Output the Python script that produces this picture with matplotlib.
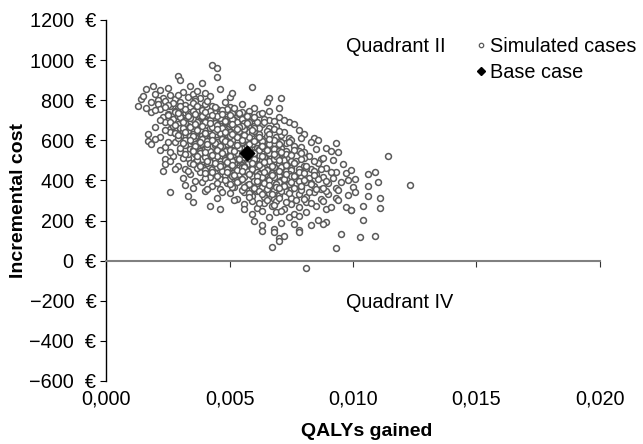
import numpy as np
import matplotlib.pyplot as plt
from matplotlib.lines import Line2D
from matplotlib.ticker import FuncFormatter

plt.rcParams['font.family'] = ['Liberation Sans', 'DejaVu Sans']

# simulated cases, QALYs gained in thousandths, read band by band (cost in EUR)
qaly_milli = [
    4.3, 4.5,
    2.9, 3.0, 4.5, 1.9, 3.4, 3.9,
    5.9, 2.5, 1.6, 2.2, 4.6,
    1.4, 1.5, 2.0, 2.3, 2.6, 2.8, 3.1, 3.3, 3.5, 3.7, 3.8, 4.0, 4.2, 5.0, 5.1, 6.6, 7.1, 2.1, 2.9, 3.6,
    1.3, 1.6, 1.8, 2.1, 2.2, 2.4, 2.6, 2.7, 2.9, 3.0, 3.2, 3.4, 3.6, 3.8, 4.0, 4.3, 4.5, 4.8, 5.0, 5.5,
    6.0, 6.5, 6.6, 7.0, 2.5, 3.1, 3.5, 4.1,
    1.8, 2.3, 2.5, 2.7, 2.8, 3.0, 3.1, 3.3, 3.5, 3.6, 3.8, 3.9, 4.1, 4.3, 4.5, 4.7, 4.9, 5.1, 5.3, 5.6,
    5.9, 6.2, 6.6, 7.0, 3.2, 3.7, 4.0, 4.4, 4.8, 5.2, 5.5, 2.9,
    2.0, 2.4, 2.6, 2.9, 3.0, 3.2, 3.3, 3.5, 3.7, 3.8, 4.0, 4.1, 4.3, 4.5, 4.6, 4.8, 5.0, 5.2, 5.4, 5.6,
    5.8, 6.0, 6.3, 6.6, 6.9, 7.4, 7.6, 3.4, 3.9, 4.4, 4.9, 5.3, 5.7, 6.1, 2.7,
    1.7, 2.2, 2.6, 3.0, 3.1, 3.3, 3.4, 3.6, 3.8, 3.9, 4.1, 4.2, 4.4, 4.6, 4.7, 4.9, 5.1, 5.2, 5.4, 5.6,
    5.8, 6.0, 6.2, 6.4, 6.6, 6.9, 7.1, 7.4, 8.0, 8.4, 3.5, 4.0, 4.5, 5.0, 5.5, 6.1, 2.8,
    1.7, 1.8, 2.4, 2.8, 3.2, 3.4, 3.5, 3.7, 3.9, 4.0, 4.2, 4.4, 4.5, 4.7, 4.9, 5.0, 5.2, 5.4, 5.5, 5.7,
    5.9, 6.1, 6.3, 6.5, 6.7, 6.9, 7.1, 7.3, 7.6, 8.3, 8.9, 9.3, 3.0, 3.6, 4.1, 4.6, 5.1, 5.6, 6.2, 6.8, 7.9,
    2.4, 2.7, 3.0, 3.3, 3.6, 3.8, 4.0, 4.1, 4.3, 4.5, 4.6, 4.8, 5.0, 5.1, 5.3, 5.5, 5.7, 5.8, 6.0, 6.2,
    6.4, 6.6, 6.8, 7.0, 7.2, 7.5, 7.8, 8.2, 8.7, 9.4, 11.4, 3.9, 4.4, 4.9, 5.4, 5.9, 6.5, 7.3, 8.0,
    2.4, 2.9, 3.2, 3.6, 3.9, 4.1, 4.3, 4.4, 4.6, 4.8, 5.0, 5.2, 5.3, 5.5, 5.7, 5.9, 6.1, 6.3, 6.5, 6.7,
    6.9, 7.1, 7.3, 7.5, 7.7, 8.0, 8.3, 8.6, 8.9, 9.6, 4.7, 5.4, 6.0, 6.6, 7.2, 7.8,
    2.3, 3.1, 3.4, 3.8, 4.2, 4.4, 4.6, 4.8, 5.0, 5.2, 5.4, 5.6, 5.8, 6.0, 6.2, 6.4, 6.6, 6.8, 7.0, 7.2,
    7.4, 7.7, 8.0, 8.2, 8.5, 8.8, 9.3, 9.7, 10.1, 10.6, 10.9, 5.3, 5.9, 6.5, 7.1, 7.9,
    3.2, 3.5, 3.9, 4.3, 4.6, 4.9, 5.2, 5.4, 5.7, 5.9, 6.1, 6.3, 6.5, 6.7, 6.9, 7.1, 7.3, 7.5, 7.7, 7.9,
    8.1, 8.4, 8.7, 9.0, 9.3, 9.5, 10.0, 10.6, 11.0, 12.3, 6.0, 6.8, 7.4,
    2.6, 3.3, 4.0, 4.5, 5.0, 5.3, 5.6, 5.9, 6.1, 6.4, 6.6, 6.8, 7.0, 7.3, 7.5, 7.8, 8.1, 8.4, 8.7, 9.0,
    9.3, 9.8, 10.1, 10.6, 11.1,
    3.5, 4.2, 4.6, 5.6, 5.9, 6.1, 6.4, 6.7, 6.9, 7.2, 7.5, 7.8, 8.1, 8.5, 8.9, 9.1, 9.7, 9.9, 10.4, 11.1,
    5.6, 5.9, 6.3, 6.6, 6.9, 7.1, 7.4, 7.6, 7.8, 8.1, 8.6, 8.9, 9.9, 10.4,
    6.0, 6.3, 6.8, 7.1, 7.6, 7.8, 8.3, 8.8,
    6.3, 6.8, 7.0, 7.2, 7.8, 9.5, 10.3, 10.9,
    6.7, 7.0, 9.3,
    8.1,
    # denser core
    2.0, 2.4, 2.8, 3.2, 3.4, 3.7, 3.9, 4.2, 4.4, 4.6, 4.9, 5.2, 5.4, 5.8, 6.3, 3.0, 3.5, 4.7,
    2.2, 2.6, 3.0, 3.2, 3.5, 3.7, 3.9, 4.2, 4.4, 4.6, 4.8, 5.0, 5.3, 5.5, 5.8, 6.1, 6.4, 6.8, 7.2, 3.4,
    4.0, 4.5, 5.1, 5.6,
    2.4, 2.8, 3.1, 3.3, 3.6, 3.8, 4.0, 4.2, 4.4, 4.6, 4.8, 5.0, 5.2, 5.4, 5.6, 5.9, 6.2, 6.5, 6.8, 7.2,
    7.8, 3.5, 4.3, 4.9, 5.5, 6.0,
    2.0, 2.5, 2.9, 3.2, 3.4, 3.7, 3.9, 4.1, 4.3, 4.5, 4.7, 4.9, 5.1, 5.3, 5.5, 5.7, 5.9, 6.1, 6.3, 6.5,
    6.8, 7.1, 7.5, 7.9, 8.6, 3.6, 4.4, 5.0, 5.8, 6.6,
    2.2, 2.6, 3.0, 3.3, 3.5, 3.8, 4.0, 4.2, 4.4, 4.6, 4.8, 5.0, 5.2, 5.4, 5.6, 5.8, 6.0, 6.2, 6.4, 6.6,
    6.8, 7.0, 7.3, 7.6, 8.0, 8.5, 9.1, 4.1, 4.7, 5.3, 6.3, 6.9,
    2.6, 3.1, 3.4, 3.7, 4.0, 4.2, 4.4, 4.6, 4.8, 5.0, 5.2, 5.4, 5.6, 5.8, 6.0, 6.2, 6.4, 6.6, 6.8, 7.0,
    7.2, 7.4, 7.6, 7.9, 8.4, 8.8, 9.2, 4.5, 5.1, 5.7, 6.3, 6.9, 7.5,
    2.8, 3.3, 3.7, 4.0, 4.3, 4.5, 4.7, 4.9, 5.1, 5.3, 5.5, 5.7, 5.9, 6.1, 6.3, 6.5, 6.7, 6.9, 7.1, 7.3,
    7.5, 7.8, 8.1, 8.4, 8.7, 9.1, 9.9, 5.0, 5.6, 6.2, 6.8, 7.4,
    3.6, 4.0, 4.5, 4.8, 5.1, 5.3, 5.5, 5.8, 6.0, 6.2, 6.4, 6.6, 6.8, 7.0, 7.2, 7.4, 7.6, 7.8, 8.0, 8.3,
    8.6, 8.9, 9.2, 9.8, 6.3, 6.9, 7.5,
    4.1, 4.7, 5.1, 5.5, 5.8, 6.0, 6.2, 6.5, 6.7, 6.9, 7.1, 7.4, 7.6, 7.9, 8.2, 8.5, 8.9, 9.4, 6.3, 7.2,
    5.2, 5.8, 6.2, 6.5, 6.8, 7.0, 7.3, 7.7, 8.0, 8.3, 8.8, 9.4,
    # densest part of the core
    2.5, 2.9, 3.3, 3.6, 4.0, 4.3, 4.7, 5.0, 5.4, 5.7, 6.0,
    2.8, 3.1, 3.4, 3.6, 3.9, 4.2, 4.5, 4.7, 5.1, 5.4, 5.7, 6.0, 6.4,
    2.9, 3.2, 3.5, 3.7, 4.0, 4.3, 4.5, 4.8, 5.1, 5.3, 5.6, 5.9, 6.2, 6.6, 7.0,
    3.1, 3.4, 3.6, 3.8, 4.1, 4.3, 4.6, 4.8, 5.0, 5.3, 5.5, 5.8, 6.0, 6.3, 6.6, 7.0, 7.4,
    3.2, 3.5, 3.7, 4.0, 4.3, 4.5, 4.7, 5.0, 5.2, 5.5, 5.7, 6.0, 6.3, 6.5, 6.8, 7.1, 7.5, 7.9,
    3.5, 3.8, 4.1, 4.4, 4.6, 4.9, 5.1, 5.4, 5.6, 5.9, 6.2, 6.4, 6.7, 7.0, 7.3, 7.6, 8.1,
    4.0, 4.5, 4.9, 5.2, 5.5, 5.8, 6.1, 6.4, 6.7, 7.0, 7.3, 7.6, 8.0, 8.4,
    5.0, 5.6, 6.1, 6.6, 7.0, 7.5, 7.9, 8.3, 8.8,
]
cost_eur = [
    975, 960,
    920, 900, 915, 870, 870, 885,
    865, 860, 855, 850, 855,
    805, 820, 830, 810, 825, 805, 840, 815, 830, 845, 810, 835, 820, 815, 835, 810, 810, 800, 825, 805,
    770, 760, 790, 780, 755, 795, 770, 785, 760, 790, 775, 765, 795, 760, 780, 770, 755, 790, 765, 780,
    760, 790, 745, 760, 775, 755, 785, 795,
    740, 715, 730, 705, 745, 725, 710, 740, 720, 705, 735, 715, 730, 710, 740, 720, 705, 735, 715, 725,
    710, 730, 700, 715, 700, 745, 705, 735, 745, 700, 740, 720,
    665, 690, 655, 680, 660, 695, 670, 655, 685, 665, 695, 675, 655, 680, 665, 690, 670, 655, 685, 660,
    690, 670, 680, 660, 670, 690, 680, 650, 680, 695, 655, 675, 650, 655, 670,
    630, 615, 640, 620, 645, 605, 630, 615, 640, 625, 610, 645, 620, 635, 605, 630, 615, 645, 625, 610,
    640, 620, 630, 605, 640, 615, 625, 610, 630, 610, 645, 625, 600, 640, 615, 605, 635,
    595, 580, 565, 590, 575, 555, 590, 570, 580, 560, 595, 575, 555, 585, 565, 595, 575, 560, 585, 570,
    590, 560, 580, 565, 595, 575, 560, 585, 570, 590, 560, 585, 550, 595, 575, 560, 550, 595, 555, 585, 565,
    505, 520, 540, 510, 530, 545, 515, 535, 505, 525, 545, 510, 530, 520, 545, 505, 535, 515, 540, 525,
    505, 545, 520, 535, 510, 530, 545, 520, 505, 540, 520, 505, 540, 505, 525, 500, 530, 545, 510,
    480, 470, 455, 490, 465, 485, 455, 475, 495, 460, 480, 465, 490, 455, 475, 495, 460, 485, 470, 455,
    490, 465, 480, 460, 495, 470, 455, 485, 460, 480, 475, 450, 495, 480, 490, 455,
    445, 410, 430, 440, 415, 435, 405, 425, 445, 410, 430, 415, 440, 405, 425, 445, 410, 430, 420, 440,
    405, 425, 445, 410, 430, 415, 440, 435, 405, 430, 440, 400, 420, 445, 400, 415,
    375, 360, 390, 370, 355, 385, 365, 395, 375, 355, 385, 365, 395, 360, 380, 395, 370, 355, 385, 365,
    390, 370, 355, 385, 360, 390, 365, 370, 390, 375, 360, 350, 380,
    340, 320, 345, 310, 335, 305, 340, 320, 345, 315, 335, 305, 325, 345, 310, 330, 315, 340, 305, 330,
    310, 325, 340, 320, 310,
    290, 270, 255, 280, 295, 260, 285, 270, 295, 255, 280, 265, 290, 270, 255, 265, 265, 250, 270, 260,
    255, 235, 245, 220, 240, 245, 220, 235, 225, 240, 205, 195, 250, 205,
    200, 180, 160, 190, 185, 155, 180, 185,
    150, 145, 115, 125, 145, 135, 120, 125,
    70, 100, 65,
    -35,
    # denser core
    750, 765, 740, 755, 730, 770, 750, 745, 765, 735, 755, 760, 730, 745, 735, 770, 745, 750,
    700, 690, 715, 685, 705, 690, 720, 700, 685, 710, 695, 715, 690, 705, 720, 690, 705, 695, 700, 710,
    690, 720, 705, 685,
    650, 635, 660, 640, 670, 650, 635, 660, 645, 670, 650, 640, 665, 645, 655, 635, 660, 645, 655, 640,
    650, 630, 665, 630, 670, 645,
    605, 590, 610, 600, 620, 585, 605, 595, 615, 590, 605, 580, 600, 615, 590, 605, 580, 610, 595, 620,
    600, 590, 600, 610, 600, 580, 585, 620, 615, 580,
    550, 540, 560, 530, 550, 535, 555, 545, 530, 560, 545, 550, 530, 560, 540, 555, 530, 550, 560, 535,
    555, 545, 530, 550, 540, 555, 545, 565, 570, 535, 570, 530,
    495, 510, 485, 500, 515, 490, 505, 480, 500, 510, 485, 500, 515, 490, 505, 480, 515, 495, 505, 480,
    500, 510, 485, 505, 495, 510, 500, 520, 495, 480, 500, 520, 495,
    455, 445, 460, 450, 440, 465, 445, 455, 435, 450, 465, 445, 455, 440, 460, 450, 435, 455, 465, 445,
    450, 440, 460, 445, 455, 440, 450, 430, 470, 430, 465, 430,
    395, 410, 385, 400, 420, 390, 405, 380, 395, 410, 385, 400, 415, 390, 405, 380, 410, 395, 400, 385,
    405, 395, 410, 400, 415, 380, 420,
    355, 340, 365, 350, 335, 360, 345, 355, 330, 365, 345, 335, 360, 350, 340, 355, 345, 350, 330, 370,
    300, 315, 285, 300, 275, 310, 290, 300, 305, 285, 295, 300,
    # densest part of the core
    725, 735, 720, 730, 740, 725, 730, 725, 735, 720, 715,
    675, 690, 665, 680, 670, 685, 675, 660, 680, 665, 685, 660, 690,
    625, 640, 620, 650, 635, 625, 655, 640, 630, 655, 625, 650, 615, 630, 645,
    585, 600, 570, 590, 580, 600, 570, 595, 585, 575, 600, 580, 595, 570, 605, 580, 590,
    530, 545, 520, 540, 525, 550, 535, 520, 545, 530, 550, 535, 520, 550, 530, 540, 525, 535,
    480, 470, 495, 485, 470, 490, 475, 505, 465, 485, 475, 490, 470, 500, 475, 485, 470,
    435, 420, 440, 425, 445, 430, 420, 440, 425, 445, 430, 420, 435, 425,
    380, 365, 395, 375, 360, 390, 370, 380, 360,
]

base_qaly = 0.0057
base_cost = 535

x_ticks = [0.0, 0.005, 0.010, 0.015, 0.020]
y_ticks = [-600, -400, -200, 0, 200, 400, 600, 800, 1000, 1200]

qalys = np.array(qaly_milli) / 1000
costs = np.array(cost_eur)

fig = plt.figure(figsize=(6.43, 4.44), dpi=100)
ax = fig.add_axes([0.165, 0.142, 0.768, 0.813])

ax.scatter(qalys, costs, s=18, facecolors='white', edgecolors='#5a5a5a', linewidths=1.1, zorder=3)
ax.scatter([base_qaly], [base_cost], s=55, marker='D', color='black', zorder=4)

ax.set_xlim(0, 0.02)
ax.set_ylim(-600, 1200)

# x axis line sits at zero, labels stay at the bottom
ax.spines['bottom'].set_position(('data', 0))
ax.spines['bottom'].set_color('#808080')
ax.spines['bottom'].set_linewidth(1.5)
ax.spines['top'].set_visible(False)
ax.spines['right'].set_visible(False)
ax.spines['left'].set_linewidth(1.0)
ax.set_xticks(x_ticks)
ax.tick_params(axis='x', direction='out', length=4, width=0.8, colors='#333333', labelbottom=False)
ax.set_yticks(y_ticks)
ax.yaxis.set_major_formatter(FuncFormatter(lambda v, p: f'{int(v)}  €'.replace('-', '\u2212')))
ax.tick_params(axis='y', direction='out', length=4, width=0.8, labelsize=14.3, pad=3)

sec = ax.secondary_xaxis('bottom')
sec.set_xticks(x_ticks)
sec.xaxis.set_major_formatter(FuncFormatter(lambda v, p: f'{v:.3f}'.replace('.', ',')))
sec.tick_params(length=0, labelsize=14.3, pad=6.5)
sec.spines['bottom'].set_visible(False)
sec.set_xlabel('QALYs gained', fontsize=14, fontweight='bold', labelpad=10)
sec.xaxis.label.set_x(0.528)

ax.set_ylabel('Incremental cost', fontsize=14, fontweight='bold', labelpad=2)

ax.text(0.01175, 1070, 'Quadrant II', fontsize=14.3, ha='center', va='center')
ax.text(0.01190, -210, 'Quadrant IV', fontsize=14.3, ha='center', va='center')

handles = [
    Line2D([], [], ls='none', marker='o', ms=3.2, mfc='white', mec='#5a5a5a', mew=0.9),
    Line2D([], [], ls='none', marker='D', ms=4, color='black'),
]
ax.legend(handles, ['Simulated cases', 'Base case'], loc='upper left', bbox_to_anchor=(0.75, 0.953),
          frameon=False, fontsize=14.3, handlelength=0.5, handletextpad=0.2, borderpad=0,
          borderaxespad=0, labelspacing=0.35)

fig.savefig('out.png', dpi=100)
